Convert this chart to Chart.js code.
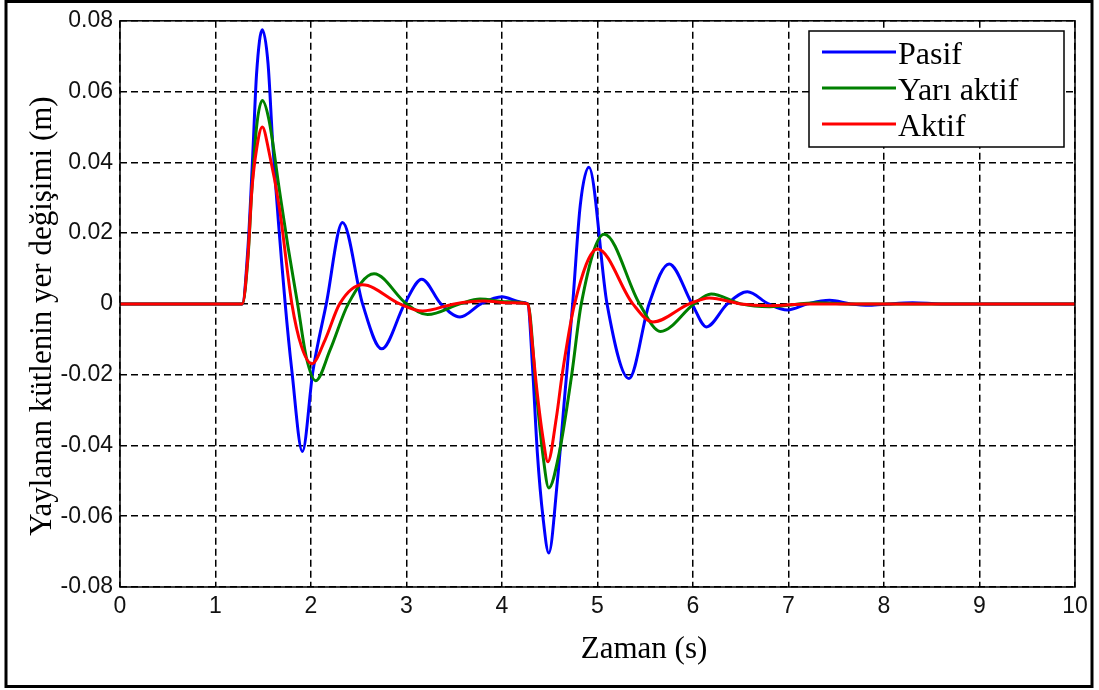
<!DOCTYPE html>
<html>
<head>
<meta charset="utf-8">
<script src="https://cdn.jsdelivr.net/npm/chart.js@4.4.1/dist/chart.umd.min.js"></script>
<style>
  html, body { margin: 0; padding: 0; background: #fff; }
  #wrap { width: 1099px; height: 690px; position: relative; }
</style>
</head>
<body>
<div id="wrap"><canvas id="plot" width="1099" height="690"></canvas></div>
<script>
// Series (time in s, displacement in m)
const pasifT = [0, 1.28, 1.34, 1.39, 1.43, 1.49, 1.55, 1.60, 1.73, 1.80, 1.91, 2.02, 2.16, 2.33, 2.54, 2.74, 2.98, 3.16, 3.36, 3.56, 3.78, 4.0, 4.2, 4.27, 4.32, 4.37, 4.43, 4.49, 4.58, 4.66, 4.74, 4.82, 4.91, 5.10, 5.33, 5.54, 5.75, 5.99, 6.14, 6.36, 6.57, 6.79, 6.99, 7.2, 7.43, 7.65, 7.85, 8.05, 8.3, 8.6, 10];
const pasifY = [0, 0, 0.016, 0.042, 0.065, 0.0775, 0.068, 0.045, 0, -0.019, -0.0417, -0.019, 0, 0.023, 0, -0.0127, 0, 0.007, 0, -0.0037, 0, 0.002, 0.0005, 0, -0.018, -0.042, -0.0605, -0.0704, -0.05, -0.025, 0, 0.028, 0.0386, 0, -0.0211, 0, 0.0113, 0, -0.0065, 0, 0.0034, 0, -0.0017, 0, 0.001, 0, -0.0004, 0, 0.0003, 0, 0];

const yariT = [0, 1.28, 1.34, 1.38, 1.43, 1.49, 1.56, 1.67, 1.76, 1.86, 1.95, 2.05, 2.2, 2.39, 2.66, 3.0, 3.22, 3.56, 3.77, 4.05, 4.27, 4.36, 4.43, 4.49, 4.60, 4.73, 4.83, 5.07, 5.44, 5.66, 6.01, 6.19, 6.5, 6.8, 7.3, 7.6, 10];
const yariY = [0, 0, 0.013, 0.032, 0.05, 0.0575, 0.052, 0.032, 0.016, 0, -0.015, -0.0217, -0.013, 0, 0.0085, 0, -0.003, 0, 0.0014, 0.0006, 0, -0.025, -0.043, -0.052, -0.042, -0.02, 0, 0.0197, 0, -0.0078, 0, 0.0028, 0, -0.0008, 0.0003, 0, 0];

const aktifT = [0, 1.28, 1.34, 1.38, 1.43, 1.49, 1.56, 1.67, 1.80, 1.9, 2.01, 2.15, 2.30, 2.54, 2.93, 3.17, 3.5, 3.8, 4.1, 4.27, 4.32, 4.36, 4.43, 4.48, 4.57, 4.63, 4.76, 5.0, 5.37, 5.58, 5.96, 6.17, 6.5, 6.8, 7.2, 10];
const aktifY = [0, 0, 0.0138, 0.032, 0.0437, 0.050, 0.043, 0.027, 0, -0.012, -0.0169, -0.01, 0, 0.0054, 0, -0.002, 0, 0.0008, 0.0003, 0, -0.012, -0.023, -0.038, -0.0446, -0.032, -0.02, 0, 0.0155, 0, -0.0051, 0, 0.0017, 0, -0.0005, 0, 0];

const xTicks = [0, 1, 2, 3, 4, 5, 6, 7, 8, 9, 10];
const yTicks = [-0.08, -0.06, -0.04, -0.02, 0, 0.02, 0.04, 0.06, 0.08];

const seriesNames = ['Pasif', 'Yarı aktif', 'Aktif'];
const seriesColors = ['#0000ff', '#008000', '#ff0000'];

const xTitle = 'Zaman (s)';
const yTitle = 'Yaylanan kütlenin yer değişimi (m)';

function toPoints(ts, ys) {
    return ts.map((t, i) => ({ x: t, y: ys[i] }));
}

function fmtY(v) {
    if (Math.abs(v) < 1e-9) return '0';
    return v.toFixed(2);
}

// frame, plot box, axis titles and legend drawn on top
const decorPlugin = {
    id: 'decor',
    afterDraw(chart) {
        const ctx = chart.ctx;
        const a = chart.chartArea;
        ctx.save();

        // outer frame
        ctx.strokeStyle = '#000';
        ctx.lineWidth = 3;
        ctx.strokeRect(6, 1.5, 1086, 685);

        // plot box
        ctx.lineWidth = 1.5;
        ctx.strokeRect(a.left, a.top, a.right - a.left, a.bottom - a.top);

        // axis titles
        ctx.fillStyle = '#000';
        ctx.font = '31px "Liberation Serif", "Times New Roman", serif';
        ctx.textAlign = 'center';
        ctx.textBaseline = 'alphabetic';
        ctx.fillText(xTitle, 644, 658);

        ctx.save();
        ctx.translate(51, 316);
        ctx.rotate(-Math.PI / 2);
        ctx.fillText(yTitle, 0, 0);
        ctx.restore();

        // legend
        const lx = 809, ly = 31, lw = 255, lh = 116;
        ctx.fillStyle = '#fff';
        ctx.fillRect(lx, ly, lw, lh);
        ctx.lineWidth = 1.5;
        ctx.strokeStyle = '#000';
        ctx.strokeRect(lx, ly, lw, lh);

        ctx.font = '32px "Liberation Serif", "Times New Roman", serif';
        ctx.textAlign = 'left';
        chart.data.datasets.forEach((ds, i) => {
            const y = 52 + i * 36;
            ctx.strokeStyle = ds.borderColor;
            ctx.lineWidth = 3;
            ctx.beginPath();
            ctx.moveTo(822, y);
            ctx.lineTo(896, y);
            ctx.stroke();
            ctx.fillStyle = '#000';
            ctx.fillText(ds.label, 898, y + 12);
        });

        ctx.restore();
    }
};

const ctx = document.getElementById('plot').getContext('2d');

new Chart(ctx, {
    type: 'line',
    data: {
        datasets: [
            { label: seriesNames[0], data: toPoints(pasifT, pasifY), borderColor: seriesColors[0], order: 2 },
            { label: seriesNames[1], data: toPoints(yariT, yariY), borderColor: seriesColors[1], order: 1 },
            { label: seriesNames[2], data: toPoints(aktifT, aktifY), borderColor: seriesColors[2], order: 0 }
        ]
    },
    options: {
        responsive: false,
        animation: false,
        events: [],
        datasets: {
            line: {
                borderWidth: 3,
                pointRadius: 0,
                fill: false,
                tension: 0.4,
                cubicInterpolationMode: 'monotone'
            }
        },
        layout: { padding: { top: 17, right: 24, left: 0, bottom: 0 } },
        plugins: {
            legend: { display: false },
            tooltip: { enabled: false }
        },
        scales: {
            x: {
                type: 'linear',
                min: 0,
                max: 10,
                afterBuildTicks: s => { s.ticks = xTicks.map(v => ({ value: v })); },
                afterFit: s => { s.height = 103; },
                grid: { color: '#000', lineWidth: 1.5, drawTicks: false },
                border: { display: false, dash: [7, 4] },
                ticks: {
                    padding: 6,
                    color: '#111',
                    font: { family: '"Liberation Sans", Arial, sans-serif', size: 23 },
                    maxRotation: 0,
                    callback: v => String(v)
                }
            },
            y: {
                min: -0.08,
                max: 0.08,
                afterBuildTicks: s => { s.ticks = yTicks.map(v => ({ value: v })); },
                afterFit: s => { s.width = 120; },
                grid: { color: '#000', lineWidth: 1.5, drawTicks: false },
                border: { display: false, dash: [7, 4] },
                ticks: {
                    padding: 7,
                    color: '#111',
                    font: { family: '"Liberation Sans", Arial, sans-serif', size: 23 },
                    callback: v => fmtY(v)
                }
            }
        }
    },
    plugins: [decorPlugin]
});
</script>
</body>
</html>
